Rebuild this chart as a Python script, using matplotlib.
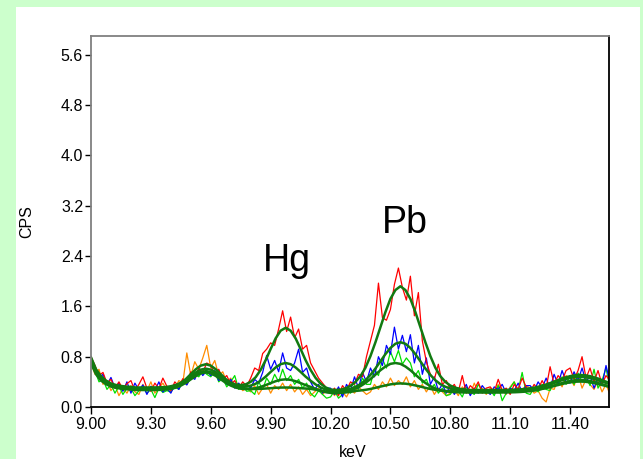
import numpy as np
import matplotlib.pyplot as plt
from matplotlib.patches import Rectangle

plt.rcParams['font.family'] = ['Liberation Sans', 'DejaVu Sans']

# energy channels (keV)
kev = np.linspace(9.0, 11.6, 131)
kev_fit = np.linspace(9.0, 11.6, 105)

# measured spectra (CPS)
red = [0.80, 0.66, 0.50, 0.55, 0.38, 0.44, 0.30, 0.40, 0.28, 0.37,
       0.42, 0.26, 0.36, 0.48, 0.30, 0.25, 0.38, 0.29, 0.46, 0.33,
       0.26, 0.40, 0.33, 0.45, 0.38, 0.56, 0.47, 0.62, 0.55, 0.70,
       0.66, 0.52, 0.60, 0.44, 0.50, 0.36, 0.42, 0.30, 0.40, 0.33,
       0.46, 0.62, 0.58, 0.85, 0.92, 1.02, 0.98, 1.24, 1.53, 1.20,
       1.43, 1.10, 1.24, 0.92, 0.98, 0.70, 0.58, 0.46, 0.38, 0.30,
       0.22, 0.30, 0.18, 0.34, 0.26, 0.40, 0.36, 0.52, 0.48, 0.80,
       1.05, 1.30, 1.97, 1.42, 1.38, 1.55, 1.95, 2.21, 1.90, 1.70,
       2.08, 1.45, 1.82, 1.05, 0.72, 0.52, 0.44, 0.68, 0.36, 0.42,
       0.28, 0.36, 0.24, 0.50, 0.22, 0.34, 0.28, 0.40, 0.22, 0.30,
       0.32, 0.24, 0.44, 0.26, 0.30, 0.20, 0.36, 0.28, 0.46, 0.32,
       0.24, 0.36, 0.28, 0.42, 0.30, 0.64, 0.36, 0.50, 0.42, 0.58,
       0.62, 0.44, 0.58, 0.80, 0.46, 0.62, 0.40, 0.58, 0.36, 0.50, 0.42]

blue = [0.72, 0.62, 0.45, 0.52, 0.35, 0.47, 0.30, 0.38, 0.25, 0.40,
        0.22, 0.38, 0.27, 0.35, 0.20, 0.33, 0.26, 0.40, 0.24, 0.30,
        0.22, 0.36, 0.28, 0.42, 0.35, 0.48, 0.44, 0.60, 0.50, 0.58,
        0.50, 0.58, 0.42, 0.50, 0.36, 0.44, 0.30, 0.38, 0.28, 0.36,
        0.30, 0.44, 0.38, 0.55, 0.82, 0.60, 0.74, 0.56, 0.86, 0.62,
        0.58, 0.70, 0.92, 0.55, 0.62, 0.40, 0.28, 0.36, 0.22, 0.30,
        0.30, 0.20, 0.32, 0.16, 0.36, 0.26, 0.48, 0.30, 0.55, 0.40,
        0.62, 0.48, 0.80, 0.66, 0.98, 0.84, 1.27, 0.92, 1.14, 0.88,
        1.15, 0.70, 0.98, 0.52, 0.78, 0.36, 0.48, 0.26, 0.36, 0.22,
        0.34, 0.20, 0.30, 0.24, 0.36, 0.18, 0.30, 0.22, 0.34, 0.26,
        0.20, 0.32, 0.28, 0.36, 0.22, 0.30, 0.26, 0.38, 0.24, 0.34,
        0.34, 0.26, 0.40, 0.30, 0.46, 0.30, 0.52, 0.36, 0.58, 0.40,
        0.38, 0.56, 0.42, 0.62, 0.40, 0.50, 0.30, 0.46, 0.34, 0.66, 0.40]

lime = [0.66, 0.58, 0.40, 0.44, 0.28, 0.36, 0.22, 0.33, 0.20, 0.30,
        0.30, 0.18, 0.26, 0.32, 0.22, 0.28, 0.15, 0.30, 0.23, 0.26,
        0.24, 0.32, 0.28, 0.40, 0.36, 0.46, 0.52, 0.48, 0.58, 0.52,
        0.48, 0.56, 0.40, 0.46, 0.32, 0.40, 0.50, 0.28, 0.34, 0.25,
        0.26, 0.20, 0.40, 0.28, 0.46, 0.36, 0.52, 0.40, 0.60, 0.42,
        0.50, 0.36, 0.44, 0.30, 0.38, 0.22, 0.16, 0.26, 0.20, 0.14,
        0.16, 0.26, 0.14, 0.20, 0.30, 0.22, 0.34, 0.28, 0.46, 0.36,
        0.36, 0.60, 0.50, 0.76, 0.62, 0.88, 0.72, 0.90, 0.68, 0.78,
        0.70, 0.48, 0.58, 0.38, 0.44, 0.28, 0.36, 0.22, 0.30, 0.18,
        0.20, 0.30, 0.26, 0.16, 0.32, 0.24, 0.20, 0.36, 0.26, 0.22,
        0.28, 0.18, 0.34, 0.10, 0.22, 0.30, 0.40, 0.26, 0.55, 0.22,
        0.20, 0.30, 0.24, 0.36, 0.28, 0.26, 0.42, 0.34, 0.48, 0.36,
        0.50, 0.36, 0.54, 0.40, 0.48, 0.34, 0.60, 0.30, 0.42, 0.62, 0.30]

orange = [0.70, 0.52, 0.60, 0.36, 0.42, 0.26, 0.35, 0.18, 0.30, 0.22,
          0.34, 0.24, 0.20, 0.36, 0.26, 0.40, 0.22, 0.30, 0.38, 0.27,
          0.34, 0.30, 0.42, 0.38, 0.86, 0.50, 0.72, 0.60, 0.78, 0.98,
          0.62, 0.74, 0.50, 0.56, 0.40, 0.46, 0.32, 0.36, 0.26, 0.30,
          0.24, 0.34, 0.20, 0.30, 0.36, 0.22, 0.34, 0.28, 0.38, 0.26,
          0.36, 0.24, 0.32, 0.20, 0.28, 0.18, 0.24, 0.30, 0.20, 0.26,
          0.28, 0.18, 0.30, 0.24, 0.16, 0.28, 0.22, 0.32, 0.26, 0.20,
          0.24, 0.36, 0.28, 0.40, 0.32, 0.46, 0.34, 0.42, 0.36, 0.48,
          0.32, 0.42, 0.28, 0.36, 0.24, 0.34, 0.20, 0.30, 0.24, 0.18,
          0.22, 0.28, 0.18, 0.32, 0.26, 0.20, 0.38, 0.24, 0.30, 0.20,
          0.30, 0.22, 0.36, 0.26, 0.20, 0.32, 0.40, 0.24, 0.28, 0.34,
          0.30, 0.22, 0.26, 0.14, 0.08, 0.30, 0.28, 0.44, 0.32, 0.50,
          0.46, 0.34, 0.52, 0.30, 0.44, 0.36, 0.28, 0.42, 0.24, 0.36, 0.20]

# fitted spectra (CPS)
fit_red = [0.79, 0.60, 0.49, 0.42, 0.375, 0.35, 0.335, 0.325,
           0.32, 0.31, 0.31, 0.31, 0.31, 0.311, 0.313, 0.318,
           0.33, 0.35, 0.385, 0.433, 0.492, 0.55, 0.594, 0.61,
           0.594, 0.55, 0.492, 0.433, 0.388, 0.358, 0.348, 0.36,
           0.40, 0.474, 0.59, 0.745, 0.923, 1.092, 1.214, 1.26,
           1.214, 1.092, 0.923, 0.745, 0.59, 0.463, 0.372, 0.312,
           0.278, 0.271, 0.276, 0.297, 0.336, 0.40, 0.49, 0.625,
           0.81, 1.03, 1.27, 1.51, 1.72, 1.86, 1.92, 1.86,
           1.72, 1.51, 1.27, 1.03, 0.81, 0.625, 0.49, 0.40,
           0.341, 0.307, 0.288, 0.278, 0.27, 0.27, 0.27, 0.27,
           0.27, 0.27, 0.27, 0.272, 0.273, 0.276, 0.281, 0.287,
           0.297, 0.311, 0.33, 0.353, 0.38, 0.409, 0.44, 0.468,
           0.49, 0.505, 0.51, 0.505, 0.49, 0.468, 0.44, 0.409,
           0.38]

fit_blue = [0.76, 0.57, 0.47, 0.405, 0.36, 0.337, 0.323, 0.314,
            0.308, 0.30, 0.30, 0.30, 0.30, 0.301, 0.303, 0.308,
            0.318, 0.336, 0.368, 0.411, 0.464, 0.516, 0.555, 0.57,
            0.555, 0.516, 0.464, 0.411, 0.369, 0.339, 0.326, 0.326,
            0.34, 0.37, 0.418, 0.483, 0.558, 0.629, 0.681, 0.70,
            0.681, 0.629, 0.558, 0.483, 0.418, 0.359, 0.312, 0.278,
            0.258, 0.252, 0.254, 0.267, 0.288, 0.32, 0.364, 0.426,
            0.51, 0.613, 0.727, 0.841, 0.939, 1.006, 1.03, 1.006,
            0.939, 0.841, 0.727, 0.613, 0.51, 0.426, 0.364, 0.322,
            0.294, 0.278, 0.268, 0.264, 0.26, 0.26, 0.26, 0.26,
            0.26, 0.26, 0.26, 0.262, 0.263, 0.266, 0.27, 0.276,
            0.285, 0.298, 0.315, 0.336, 0.361, 0.388, 0.416, 0.441,
            0.462, 0.475, 0.48, 0.475, 0.462, 0.441, 0.416, 0.388,
            0.361]

fit_lime = [0.70, 0.52, 0.42, 0.365, 0.325, 0.305, 0.292, 0.283,
            0.278, 0.27, 0.27, 0.27, 0.27, 0.271, 0.273, 0.278,
            0.288, 0.308, 0.34, 0.385, 0.44, 0.494, 0.535, 0.55,
            0.535, 0.494, 0.44, 0.385, 0.341, 0.309, 0.291, 0.285,
            0.289, 0.299, 0.32, 0.348, 0.38, 0.41, 0.432, 0.44,
            0.432, 0.41, 0.38, 0.348, 0.32, 0.289, 0.261, 0.237,
            0.225, 0.22, 0.225, 0.241, 0.262, 0.293, 0.332, 0.383,
            0.445, 0.515, 0.585, 0.644, 0.686, 0.70, 0.686, 0.644,
            0.585, 0.515, 0.445, 0.383, 0.332, 0.293, 0.267, 0.251,
            0.241, 0.236, 0.233, 0.231, 0.23, 0.23, 0.23, 0.23,
            0.23, 0.23, 0.23, 0.232, 0.233, 0.235, 0.239, 0.244,
            0.253, 0.264, 0.28, 0.299, 0.322, 0.346, 0.371, 0.395,
            0.413, 0.426, 0.43, 0.426, 0.413, 0.395, 0.371, 0.346,
            0.322]

fit_orange = [0.74, 0.55, 0.44, 0.38, 0.34, 0.318, 0.303, 0.294,
              0.288, 0.28, 0.28, 0.28, 0.28, 0.282, 0.284, 0.291,
              0.306, 0.334, 0.38, 0.444, 0.523, 0.60, 0.658, 0.68,
              0.658, 0.60, 0.523, 0.444, 0.38, 0.334, 0.307, 0.293,
              0.287, 0.287, 0.289, 0.294, 0.299, 0.305, 0.309, 0.31,
              0.309, 0.305, 0.299, 0.294, 0.289, 0.275, 0.258, 0.242,
              0.231, 0.226, 0.226, 0.232, 0.24, 0.255, 0.263, 0.273,
              0.287, 0.305, 0.325, 0.343, 0.36, 0.371, 0.375, 0.371,
              0.36, 0.343, 0.325, 0.305, 0.287, 0.273, 0.263, 0.255,
              0.251, 0.248, 0.245, 0.245, 0.245, 0.245, 0.245, 0.245,
              0.245, 0.245, 0.245, 0.246, 0.247, 0.249, 0.252, 0.257,
              0.263, 0.273, 0.285, 0.30, 0.318, 0.338, 0.358, 0.377,
              0.392, 0.402, 0.405, 0.402, 0.392, 0.377, 0.358, 0.338,
              0.318]

xticks = [9.00, 9.30, 9.60, 9.90, 10.20, 10.50, 10.80, 11.10, 11.40]
yticks = [0.0, 0.8, 1.6, 2.4, 3.2, 4.0, 4.8, 5.6]

fig = plt.figure(figsize=(6.43, 4.59), dpi=100, facecolor='#ccffcc')
# white panel inside the green frame
panel = Rectangle((16 / 643, 0), 624 / 643, 452 / 459, transform=fig.transFigure,
                  facecolor='white', edgecolor='none', zorder=-10)
fig.add_artist(panel)
ax = fig.add_axes([91 / 643, 52 / 459, 518 / 643, 371 / 459])
ax.set_zorder(1)

ax.plot(kev, orange, color='#ff8c00', lw=0.9)
ax.plot(kev, lime, color='#00e000', lw=0.9)
ax.plot(kev, blue, color='#0000ff', lw=0.9)
ax.plot(kev, red, color='#ff0000', lw=0.9)
for f in [fit_orange, fit_lime, fit_blue, fit_red]:
    ax.plot(kev_fit, f, color='#117a11', lw=1.8)

ax.text(9.981, 2.16, 'Hg', fontsize=27, ha='center', va='baseline')
ax.text(10.570, 2.77, 'Pb', fontsize=27, ha='center', va='baseline')

ax.set_xlim(9.0, 11.595)
ax.set_ylim(0, 5.9)
ax.set_xticks(xticks)
ax.set_xticklabels(['%.2f' % t for t in xticks])
ax.set_yticks(yticks)
ax.set_yticklabels(['%.1f' % t for t in yticks])
ax.tick_params(axis='x', direction='out', length=5, width=1, pad=2.5, labelsize=11.5)
ax.tick_params(axis='y', direction='out', length=4.5, width=1, pad=1.2, labelsize=11.5)

for s in ['left', 'top']:
    ax.spines[s].set_color('#808080')
for s in ['bottom', 'right']:
    ax.spines[s].set_color('black')
for s in ax.spines.values():
    s.set_linewidth(1.3)

ax.set_xlabel('keV', fontsize=11.5)
ax.xaxis.set_label_coords(0.505, -0.102)
ax.set_ylabel('CPS', fontsize=11.5)
ax.yaxis.set_label_coords(-0.110, 0.5)

fig.savefig('out.png', dpi=100, facecolor=fig.get_facecolor())
